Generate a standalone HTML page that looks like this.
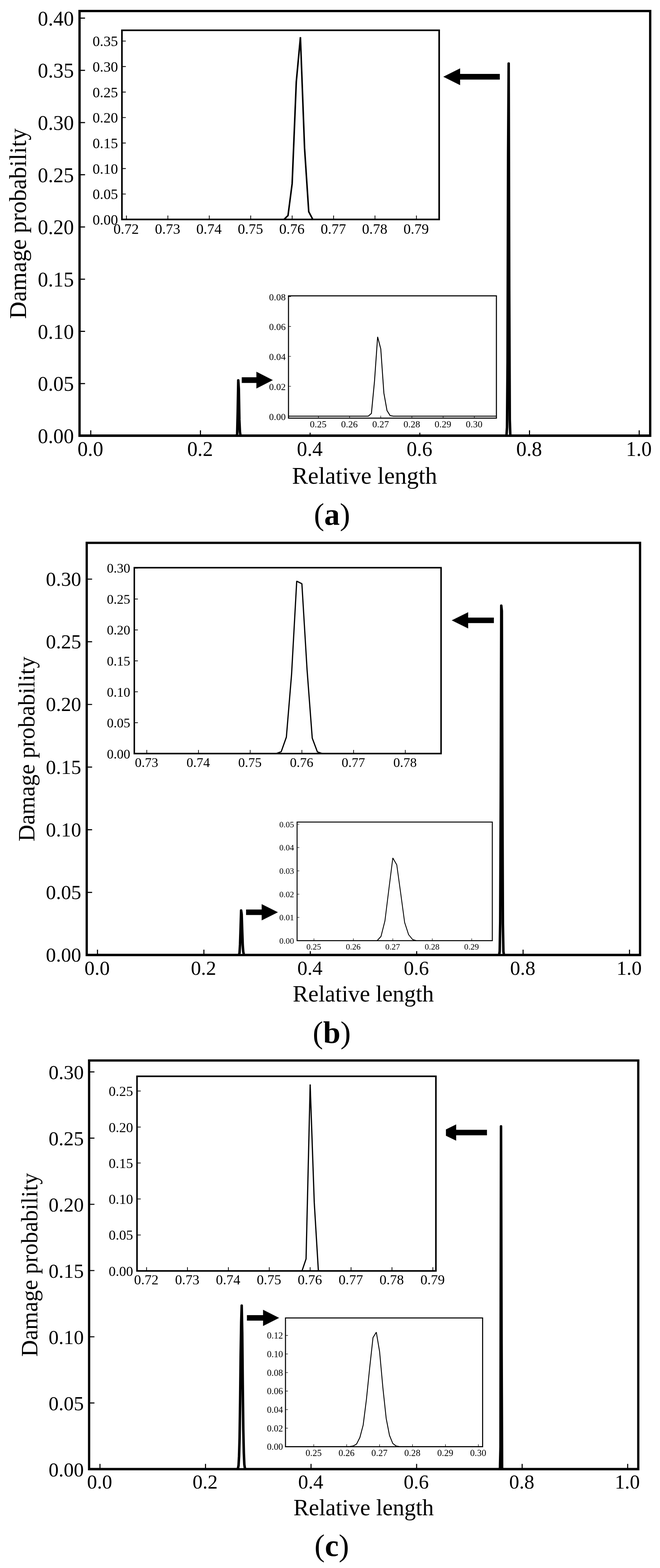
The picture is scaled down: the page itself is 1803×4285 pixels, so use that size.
<!DOCTYPE html>
<html lang="en">
<head>
<meta charset="utf-8">
<title>Damage probability versus relative length</title>
<style>
html,body{margin:0;padding:0;background:#fff;}
body{width:1803px;height:4285px;overflow:hidden;}
svg{display:block;font-family:'Liberation Serif', 'DejaVu Serif', serif;fill:#000;}
</style>
</head>
<body>
<svg width="1803" height="4285" viewBox="0 0 1803 4285">
<rect x="0" y="0" width="1803" height="4285" fill="#fff"/>
<clipPath id="ca0"><rect x="217.3" y="30.1" width="1558.9" height="1160.8"/></clipPath>
<polyline clip-path="url(#ca0)" points="98.1,1190.8 644.9,1190.8 646.4,1190.8 647.9,1185.7 649.4,1123.8 650.9,1039.4 652.4,1062.4 653.9,1146.9 655.4,1180.0 656.9,1189.7 658.4,1190.8 997.0,1190.8 997.0,1190.8 1382.1,1190.8 1383.6,1190.8 1385.1,1168.0 1386.6,989.7 1388.1,420.5 1389.6,173.7 1391.1,791.4 1392.6,1146.6 1394.1,1190.8 1395.6,1190.8 1896.0,1190.8" fill="none" stroke="#000" stroke-width="6.9" stroke-linejoin="round" stroke-linecap="butt"/>
<path d="M247.9,1190.9 v-15.0 M547.6,1190.9 v-15.0 M847.2,1190.9 v-15.0 M1146.9,1190.9 v-15.0 M1446.5,1190.9 v-15.0 M1746.2,1190.9 v-15.0 M217.3,1190.8 h15.0 M217.3,1048.2 h15.0 M217.3,905.5 h15.0 M217.3,762.9 h15.0 M217.3,620.2 h15.0 M217.3,477.6 h15.0 M217.3,334.9 h15.0 M217.3,192.3 h15.0 M217.3,49.6 h15.0" stroke="#000" stroke-width="3" fill="none"/>
<rect x="217.3" y="30.1" width="1558.9" height="1160.8" fill="none" stroke="#000" stroke-width="6.3"/>
<g font-size="56.3" text-anchor="middle">
<text x="246.9" y="1245.7">0.0</text>
<text x="546.6" y="1245.7">0.2</text>
<text x="846.2" y="1245.7">0.4</text>
<text x="1145.9" y="1245.7">0.6</text>
<text x="1445.5" y="1245.7">0.8</text>
<text x="1745.2" y="1245.7">1.0</text>
</g>
<g font-size="56.3" text-anchor="end">
<text x="201.8" y="1210.8">0.00</text>
<text x="201.8" y="1068.2">0.05</text>
<text x="201.8" y="925.5">0.10</text>
<text x="201.8" y="782.9">0.15</text>
<text x="201.8" y="640.2">0.20</text>
<text x="201.8" y="497.6">0.25</text>
<text x="201.8" y="354.9">0.30</text>
<text x="201.8" y="212.3">0.35</text>
<text x="201.8" y="69.6">0.40</text>
</g>
<clipPath id="ca1"><rect x="333.1" y="82.8" width="866.6" height="516.9"/></clipPath>
<polyline clip-path="url(#ca1)" points="119.1,600.0 764.1,600.0 775.5,600.0 786.8,588.9 798.1,501.7 809.4,223.7 820.7,101.5 832.0,404.9 843.4,578.4 854.7,600.0 866.0,600.0 1250.8,600.0" fill="none" stroke="#000" stroke-width="4.23" stroke-linejoin="bevel" stroke-linecap="butt"/>
<path d="M345.4,599.7 v-10.6 M458.6,599.7 v-10.6 M571.7,599.7 v-10.6 M684.9,599.7 v-10.6 M798.1,599.7 v-10.6 M911.3,599.7 v-10.6 M1024.4,599.7 v-10.6 M1137.6,599.7 v-10.6 M333.1,600.0 h10.6 M333.1,530.3 h10.6 M333.1,460.6 h10.6 M333.1,390.9 h10.6 M333.1,321.3 h10.6 M333.1,251.6 h10.6 M333.1,181.9 h10.6 M333.1,112.2 h10.6" stroke="#000" stroke-width="2.11" fill="none"/>
<rect x="333.1" y="82.8" width="866.6" height="516.9" fill="none" stroke="#000" stroke-width="4.44"/>
<g font-size="39.69" text-anchor="middle">
<text x="344.7" y="638.5">0.72</text>
<text x="457.9" y="638.5">0.73</text>
<text x="571.0" y="638.5">0.74</text>
<text x="684.2" y="638.5">0.75</text>
<text x="797.4" y="638.5">0.76</text>
<text x="910.6" y="638.5">0.77</text>
<text x="1023.7" y="638.5">0.78</text>
<text x="1136.9" y="638.5">0.79</text>
</g>
<g font-size="39.69" text-anchor="end">
<text x="322.4" y="614.1">0.00</text>
<text x="322.4" y="544.4">0.05</text>
<text x="322.4" y="474.7">0.10</text>
<text x="322.4" y="405.0">0.15</text>
<text x="322.4" y="335.4">0.20</text>
<text x="322.4" y="265.7">0.25</text>
<text x="322.4" y="196.0">0.30</text>
<text x="322.4" y="126.3">0.35</text>
</g>
<rect x="750" y="796" width="622" height="386.5" fill="#fff"/>
<clipPath id="ca2"><rect x="788.1" y="808.5" width="568" height="334.2"/></clipPath>
<polyline clip-path="url(#ca2)" points="443.9,1137.3 997.6,1137.3 1006.1,1137.3 1014.6,1129.9 1023.1,1041.3 1031.6,920.6 1040.2,953.5 1048.7,1074.4 1057.2,1121.8 1065.7,1135.7 1074.2,1137.3 2147.5,1137.3" fill="none" stroke="#000" stroke-width="2.5" stroke-linejoin="bevel" stroke-linecap="butt"/>
<path d="M869.8,1142.7 v-6.8 M955.0,1142.7 v-6.8 M1040.2,1142.7 v-6.8 M1125.3,1142.7 v-6.8 M1210.5,1142.7 v-6.8 M1295.7,1142.7 v-6.8 M788.1,1137.3 h6.8 M788.1,1055.6 h6.8 M788.1,973.9 h6.8 M788.1,892.2 h6.8 M788.1,810.5 h6.8" stroke="#000" stroke-width="1.36" fill="none"/>
<rect x="788.1" y="808.5" width="568" height="334.2" fill="none" stroke="#000" stroke-width="2.85"/>
<g font-size="26" text-anchor="middle">
<text x="869.3" y="1168.3">0.25</text>
<text x="954.5" y="1168.3">0.26</text>
<text x="1039.7" y="1168.3">0.27</text>
<text x="1124.9" y="1168.3">0.28</text>
<text x="1210.1" y="1168.3">0.29</text>
<text x="1295.2" y="1168.3">0.30</text>
</g>
<g font-size="26" text-anchor="end">
<text x="780.4" y="1147.5">0.00</text>
<text x="780.4" y="1065.8">0.02</text>
<text x="780.4" y="984.1">0.04</text>
<text x="780.4" y="902.4">0.06</text>
<text x="780.4" y="820.7">0.08</text>
</g>
<polygon points="1211.0,209.7 1257.0,186.7 1257.0,201.9 1365.4,201.9 1365.4,217.4 1257.0,217.4 1257.0,232.7" fill="#000"/>
<polygon points="745.4,1038.8 700.4,1015.8 700.4,1031.0 660.4,1031.0 660.4,1046.5 700.4,1046.5 700.4,1061.8" fill="#000"/>
<text x="996" y="1321.5" font-size="65.2" text-anchor="middle">Relative length</text>
<text transform="translate(71,611) rotate(-90)" font-size="65.3" text-anchor="middle">Damage probability</text>
<text x="907" y="1433.8" font-size="85" text-anchor="middle">(<tspan font-weight="bold">a</tspan>)</text>
<clipPath id="cb0"><rect x="236.9" y="1483.5" width="1511.6" height="1126.5"/></clipPath>
<polyline clip-path="url(#cb0)" points="121.0,2610.0 651.5,2610.0 652.9,2610.0 654.4,2603.7 655.8,2580.7 657.3,2534.3 658.7,2488.3 660.2,2498.4 661.6,2540.5 663.1,2583.0 664.5,2601.0 666.0,2608.1 667.4,2610.0 993.0,2610.0 993.0,2610.0 1362.2,2610.0 1363.6,2610.0 1365.1,2599.4 1366.5,2518.6 1368.0,2171.6 1369.4,1655.2 1370.9,1669.6 1372.3,2144.2 1373.8,2524.4 1375.2,2600.4 1376.7,2610.0 1378.2,2610.0 1865.0,2610.0" fill="none" stroke="#000" stroke-width="6.9" stroke-linejoin="round" stroke-linecap="butt"/>
<path d="M266.3,2610.0 v-14.7 M557.0,2610.0 v-14.7 M847.7,2610.0 v-14.7 M1138.3,2610.0 v-14.7 M1429.0,2610.0 v-14.7 M1719.7,2610.0 v-14.7 M236.9,2610.0 h14.7 M236.9,2438.8 h14.7 M236.9,2267.5 h14.7 M236.9,2096.3 h14.7 M236.9,1925.1 h14.7 M236.9,1753.8 h14.7 M236.9,1582.6 h14.7" stroke="#000" stroke-width="2.94" fill="none"/>
<rect x="236.9" y="1483.5" width="1511.6" height="1126.5" fill="none" stroke="#000" stroke-width="6.17"/>
<g font-size="55.17" text-anchor="middle">
<text x="265.3" y="2663.7">0.0</text>
<text x="556.0" y="2663.7">0.2</text>
<text x="846.7" y="2663.7">0.4</text>
<text x="1137.4" y="2663.7">0.6</text>
<text x="1428.0" y="2663.7">0.8</text>
<text x="1718.7" y="2663.7">1.0</text>
</g>
<g font-size="55.17" text-anchor="end">
<text x="221.9" y="2628.2">0.00</text>
<text x="221.9" y="2457.0">0.05</text>
<text x="221.9" y="2285.7">0.10</text>
<text x="221.9" y="2114.5">0.15</text>
<text x="221.9" y="1943.3">0.20</text>
<text x="221.9" y="1772.0">0.25</text>
<text x="221.9" y="1600.8">0.30</text>
</g>
<clipPath id="cb1"><rect x="366.9" y="1551.4" width="838" height="508"/></clipPath>
<polyline clip-path="url(#cb1)" points="-22.7,2059.5 740.0,2059.5 754.1,2059.5 768.2,2054.3 782.3,2014.4 796.5,1843.1 810.6,1588.2 824.7,1595.3 838.8,1829.6 853.0,2017.2 867.1,2054.8 881.2,2059.5 895.3,2059.5 1389.7,2059.5" fill="none" stroke="#000" stroke-width="3.3" stroke-linejoin="bevel" stroke-linecap="butt"/>
<path d="M401.0,2059.4 v-9.8 M542.2,2059.4 v-9.8 M683.5,2059.4 v-9.8 M824.7,2059.4 v-9.8 M966.0,2059.4 v-9.8 M1107.2,2059.4 v-9.8 M366.9,2059.5 h9.8 M366.9,1975.0 h9.8 M366.9,1890.5 h9.8 M366.9,1805.9 h9.8 M366.9,1721.4 h9.8 M366.9,1636.9 h9.8 M366.9,1552.4 h9.8" stroke="#000" stroke-width="1.95" fill="none"/>
<rect x="366.9" y="1551.4" width="838" height="508" fill="none" stroke="#000" stroke-width="4.09"/>
<g font-size="36.59" text-anchor="middle">
<text x="400.4" y="2096.1">0.73</text>
<text x="541.6" y="2096.1">0.74</text>
<text x="682.8" y="2096.1">0.75</text>
<text x="824.1" y="2096.1">0.76</text>
<text x="965.3" y="2096.1">0.77</text>
<text x="1106.5" y="2096.1">0.78</text>
</g>
<g font-size="36.59" text-anchor="end">
<text x="355.9" y="2072.5">0.00</text>
<text x="355.9" y="1988.0">0.05</text>
<text x="355.9" y="1903.5">0.10</text>
<text x="355.9" y="1818.9">0.15</text>
<text x="355.9" y="1734.4">0.20</text>
<text x="355.9" y="1649.9">0.25</text>
<text x="355.9" y="1565.4">0.30</text>
</g>
<rect x="765" y="2236" width="593" height="363.3" fill="#fff"/>
<clipPath id="cb2"><rect x="811.6" y="2246.5" width="533.3" height="324.2"/></clipPath>
<polyline clip-path="url(#cb2)" points="318.9,2570.9 1019.2,2570.9 1030.0,2570.9 1040.8,2559.1 1051.6,2516.4 1062.3,2430.2 1073.1,2344.7 1083.9,2363.3 1094.7,2441.6 1105.4,2520.8 1116.2,2554.1 1127.0,2567.4 1137.8,2570.9 2473.9,2570.9" fill="none" stroke="#000" stroke-width="2.3" stroke-linejoin="bevel" stroke-linecap="butt"/>
<path d="M857.6,2570.7 v-6.1 M965.4,2570.7 v-6.1 M1073.1,2570.7 v-6.1 M1180.9,2570.7 v-6.1 M1288.6,2570.7 v-6.1 M811.6,2570.9 h6.1 M811.6,2507.2 h6.1 M811.6,2443.6 h6.1 M811.6,2379.9 h6.1 M811.6,2316.2 h6.1 M811.6,2252.5 h6.1" stroke="#000" stroke-width="1.23" fill="none"/>
<rect x="811.6" y="2246.5" width="533.3" height="324.2" fill="none" stroke="#000" stroke-width="2.58"/>
<g font-size="23.08" text-anchor="middle">
<text x="857.2" y="2594.9">0.25</text>
<text x="964.9" y="2594.9">0.26</text>
<text x="1072.7" y="2594.9">0.27</text>
<text x="1180.4" y="2594.9">0.28</text>
<text x="1288.2" y="2594.9">0.29</text>
</g>
<g font-size="23.08" text-anchor="end">
<text x="803.3" y="2579.1">0.00</text>
<text x="803.3" y="2515.4">0.01</text>
<text x="803.3" y="2451.8">0.02</text>
<text x="803.3" y="2388.1">0.03</text>
<text x="803.3" y="2324.4">0.04</text>
<text x="803.3" y="2260.7">0.05</text>
</g>
<polygon points="1234.0,1695.2 1279.0,1673.0 1279.0,1687.7 1349.2,1687.7 1349.2,1702.7 1279.0,1702.7 1279.0,1717.5" fill="#000"/>
<polygon points="759.3,2493.1 714.8,2470.8 714.8,2485.6 672.2,2485.6 672.2,2500.6 714.8,2500.6 714.8,2515.3" fill="#000"/>
<text x="992.5" y="2737.3" font-size="63.4" text-anchor="middle">Relative length</text>
<text transform="translate(94.1,2047) rotate(-90)" font-size="63.4" text-anchor="middle">Damage probability</text>
<text x="906.3" y="2850.3" font-size="85" text-anchor="middle">(<tspan font-weight="bold">b</tspan>)</text>
<clipPath id="cc0"><rect x="243.4" y="2898.1" width="1500.2" height="1116.9"/></clipPath>
<polyline clip-path="url(#cc0)" points="128.9,4015.0 647.3,4015.0 648.8,4014.3 650.2,4012.1 651.7,4004.5 653.1,3979.2 654.5,3930.7 656.0,3830.4 657.4,3705.5 658.9,3613.3 660.3,3568.0 661.8,3644.0 663.2,3785.2 664.6,3904.6 666.1,3970.7 667.5,4002.3 669.0,4012.1 670.4,4014.6 671.8,4015.0 993.9,4015.0 993.9,4015.0 1362.9,4015.0 1364.4,4015.0 1365.8,4015.0 1367.3,3954.2 1368.7,3078.3 1370.2,3671.2 1371.6,4013.2 1373.0,4015.0 1858.9,4015.0" fill="none" stroke="#000" stroke-width="6.9" stroke-linejoin="round" stroke-linecap="butt"/>
<path d="M273.1,4015.0 v-14.6 M561.4,4015.0 v-14.6 M849.7,4015.0 v-14.6 M1138.1,4015.0 v-14.6 M1426.4,4015.0 v-14.6 M1714.7,4015.0 v-14.6 M243.4,4015.0 h14.6 M243.4,3834.0 h14.6 M243.4,3653.1 h14.6 M243.4,3472.1 h14.6 M243.4,3291.1 h14.6 M243.4,3110.2 h14.6 M243.4,2929.2 h14.6" stroke="#000" stroke-width="2.92" fill="none"/>
<rect x="243.4" y="2898.1" width="1500.2" height="1116.9" fill="none" stroke="#000" stroke-width="6.14"/>
<g font-size="54.89" text-anchor="middle">
<text x="272.1" y="4068.3">0.0</text>
<text x="560.4" y="4068.3">0.2</text>
<text x="848.8" y="4068.3">0.4</text>
<text x="1137.1" y="4068.3">0.6</text>
<text x="1425.4" y="4068.3">0.8</text>
<text x="1713.7" y="4068.3">1.0</text>
</g>
<g font-size="54.89" text-anchor="end">
<text x="228.9" y="4034.5">0.00</text>
<text x="228.9" y="3853.5">0.05</text>
<text x="228.9" y="3672.6">0.10</text>
<text x="228.9" y="3491.6">0.15</text>
<text x="228.9" y="3310.6">0.20</text>
<text x="228.9" y="3129.7">0.25</text>
<text x="228.9" y="2948.7">0.30</text>
</g>
<clipPath id="cc1"><rect x="374.3" y="2941.3" width="816.5" height="531.9"/></clipPath>
<polyline clip-path="url(#cc1)" points="176.9,3473.2 802.6,3473.2 813.8,3473.2 825.0,3473.2 836.1,3440.2 847.3,2963.5 858.5,3286.4 869.7,3472.2 880.8,3473.2 1294.2,3473.2" fill="none" stroke="#000" stroke-width="3.3" stroke-linejoin="bevel" stroke-linecap="butt"/>
<path d="M400.4,3473.2 v-10.2 M512.1,3473.2 v-10.2 M623.9,3473.2 v-10.2 M735.6,3473.2 v-10.2 M847.3,3473.2 v-10.2 M959.0,3473.2 v-10.2 M1070.8,3473.2 v-10.2 M1182.5,3473.2 v-10.2 M374.3,3473.2 h10.2 M374.3,3374.9 h10.2 M374.3,3276.6 h10.2 M374.3,3178.2 h10.2 M374.3,3079.9 h10.2 M374.3,2981.6 h10.2" stroke="#000" stroke-width="2.03" fill="none"/>
<rect x="374.3" y="2941.3" width="816.5" height="531.9" fill="none" stroke="#000" stroke-width="4.27"/>
<g font-size="38.12" text-anchor="middle">
<text x="399.7" y="3510.3">0.72</text>
<text x="511.5" y="3510.3">0.73</text>
<text x="623.2" y="3510.3">0.74</text>
<text x="734.9" y="3510.3">0.75</text>
<text x="846.6" y="3510.3">0.76</text>
<text x="958.4" y="3510.3">0.77</text>
<text x="1070.1" y="3510.3">0.78</text>
<text x="1181.8" y="3510.3">0.79</text>
</g>
<g font-size="38.12" text-anchor="end">
<text x="363.6" y="3486.7">0.00</text>
<text x="363.6" y="3388.4">0.05</text>
<text x="363.6" y="3290.1">0.10</text>
<text x="363.6" y="3191.8">0.15</text>
<text x="363.6" y="3093.5">0.20</text>
<text x="363.6" y="2995.1">0.25</text>
</g>
<clipPath id="cc2"><rect x="779.9" y="3601.7" width="538.5" height="351.9"/></clipPath>
<polyline clip-path="url(#cc2)" points="407.7,3953.5 947.1,3953.5 956.1,3953.0 965.1,3951.5 974.1,3946.2 983.1,3928.4 992.1,3894.5 1001.0,3824.3 1010.0,3736.9 1019.0,3655.3 1028.0,3640.6 1037.0,3693.8 1046.0,3792.6 1055.0,3876.2 1064.0,3922.5 1073.0,3944.6 1082.0,3951.5 1090.9,3953.2 1099.9,3953.5 2205.7,3953.5" fill="none" stroke="#000" stroke-width="2.4" stroke-linejoin="bevel" stroke-linecap="butt"/>
<path d="M857.2,3953.6 v-6.7 M947.1,3953.6 v-6.7 M1037.0,3953.6 v-6.7 M1126.9,3953.6 v-6.7 M1216.8,3953.6 v-6.7 M1306.7,3953.6 v-6.7 M779.9,3953.5 h6.7 M779.9,3902.8 h6.7 M779.9,3852.2 h6.7 M779.9,3801.5 h6.7 M779.9,3750.8 h6.7 M779.9,3700.2 h6.7 M779.9,3649.5 h6.7" stroke="#000" stroke-width="1.34" fill="none"/>
<rect x="779.9" y="3601.7" width="538.5" height="351.9" fill="none" stroke="#000" stroke-width="2.82"/>
<g font-size="25.17" text-anchor="middle">
<text x="856.8" y="3978.6">0.25</text>
<text x="946.7" y="3978.6">0.26</text>
<text x="1036.6" y="3978.6">0.27</text>
<text x="1126.5" y="3978.6">0.28</text>
<text x="1216.4" y="3978.6">0.29</text>
<text x="1306.3" y="3978.6">0.30</text>
</g>
<g font-size="25.17" text-anchor="end">
<text x="773.2" y="3962.4">0.00</text>
<text x="773.2" y="3911.8">0.02</text>
<text x="773.2" y="3861.1">0.04</text>
<text x="773.2" y="3810.4">0.06</text>
<text x="773.2" y="3759.8">0.08</text>
<text x="773.2" y="3709.1">0.10</text>
<text x="773.2" y="3658.4">0.12</text>
</g>
<polygon points="1218.2,3086.4 1246.2,3072.8 1246.2,3087.6 1330.3,3087.6 1330.3,3102.6 1246.2,3102.6 1246.2,3117.3 1218.2,3103.8" fill="#000"/>
<polygon points="762.6,3601.4 718.6,3579.2 718.6,3593.9 674.6,3593.9 674.6,3608.9 718.6,3608.9 718.6,3623.7" fill="#000"/>
<text x="993.4" y="4141" font-size="63" text-anchor="middle">Relative length</text>
<text transform="translate(102.4,3456.5) rotate(-90)" font-size="63" text-anchor="middle">Damage probability</text>
<text x="906.3" y="4251.7" font-size="85" text-anchor="middle">(<tspan font-weight="bold">c</tspan>)</text>
</svg>
</body>
</html>
